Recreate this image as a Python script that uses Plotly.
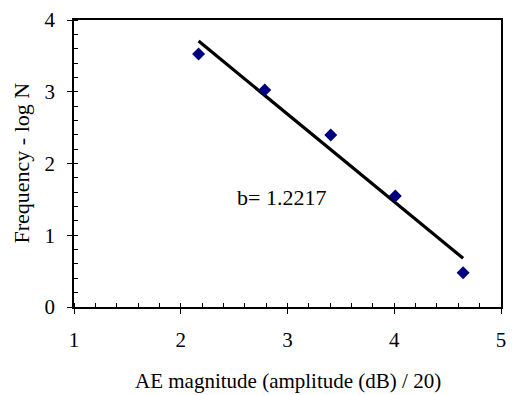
import plotly.graph_objects as go

# AE magnitude vs. frequency (log N) with a b-value regression line
magnitude = [2.167, 2.787, 3.405, 4.01, 4.645]
log_n = [3.526, 3.024, 2.397, 1.547, 0.478]

b_value = 1.2217
intercept = 6.354
fit_x = [magnitude[0], magnitude[-1]]
fit_y = [intercept - b_value * x for x in fit_x]

x_ticks = [1, 2, 3, 4, 5]
y_ticks = [0, 1, 2, 3, 4]

FONT = "Liberation Serif"

fig = go.Figure()
fig.add_trace(go.Scatter(
    x=fit_x, y=fit_y, mode="lines",
    line=dict(color="black", width=3.2),
    showlegend=False, hoverinfo="skip",
))
fig.add_trace(go.Scatter(
    x=magnitude, y=log_n, mode="markers",
    marker=dict(symbol="diamond", size=10, color="#000080"),
    showlegend=False,
))

fig.add_annotation(
    x=2.94, y=1.53, xref="x", yref="y",
    text=f"b= {b_value}", showarrow=False,
    font=dict(family=FONT, size=22, color="black"),
)

# axis titles
fig.add_annotation(
    x=0.5, y=0, xref="paper", yref="paper", yanchor="middle", yshift=-74,
    text="AE magnitude (amplitude (dB) / 20)", showarrow=False,
    font=dict(family=FONT, size=21, color="black"),
)
fig.add_annotation(
    x=0, y=0.5, xref="paper", yref="paper", xanchor="center", yanchor="middle",
    xshift=-53, textangle=-90,
    text="Frequency - log N", showarrow=False,
    font=dict(family=FONT, size=22, color="black"),
)

axis_common = dict(
    showgrid=False, zeroline=False,
    showline=True, linecolor="black", linewidth=1.5, mirror=True,
    ticks="outside", ticklen=5, tickcolor="black", tickwidth=1.2,
    tickfont=dict(family=FONT, size=21, color="black"),
)

fig.update_xaxes(
    range=[1, 5], tickvals=x_ticks, ticklabelstandoff=8,
    minor=dict(dtick=0.2, ticks="inside", ticklen=4, tickcolor="black", tickwidth=1),
    **axis_common,
)
fig.update_yaxes(
    range=[0, 4], tickvals=y_ticks, ticklabelstandoff=8,
    minor=dict(dtick=0.2, ticks="inside", ticklen=4, tickcolor="black", tickwidth=1),
    **axis_common,
)

fig.update_layout(
    width=512, height=395,
    margin=dict(l=74, r=6, t=20, b=88),
    paper_bgcolor="white", plot_bgcolor="white",
)

fig.write_html("out.html")
